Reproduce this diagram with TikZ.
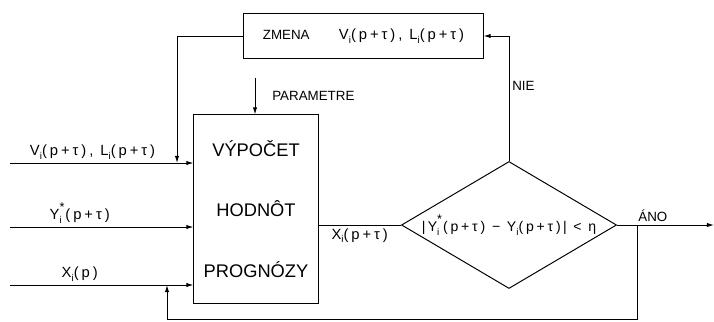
\documentclass[tikz,border=0pt]{standalone}
\usepackage{fontspec}
\setmainfont{Liberation Sans}
\newfontfamily\frm[LetterSpace=20]{Liberation Sans}
\usetikzlibrary{shapes.geometric, arrows.meta, positioning}

\newcommand{\idx}[1]{\raisebox{-0.5ex}{\fontsize{7}{8}\selectfont #1}}
\newcommand{\stidx}[1]{\makebox[4.2pt][l]{\rlap{\raisebox{1.1ex}{\fontsize{9}{9}\selectfont *}}\idx{#1}}}

\begin{document}
\begin{tikzpicture}[
        x=0.025cm, y=-0.025cm,
        line width=0.7pt,
        tag/.style={font=\fontsize{9.5}{11}\selectfont, inner sep=2pt},
        formula/.style={font=\frm\fontsize{10.5}{12}\selectfont, inner sep=2pt},
        block/.style={rectangle, draw, align=center},
        decision/.style={diamond, draw, shape aspect=1.7, inner sep=0pt, minimum width=5.375cm, minimum height=3.175cm, font=\frm\fontsize{10}{12}\selectfont},
        arrow/.style={-{Latex[length=1.8mm, width=1.1mm]}}
    ]
    \useasboundingbox (0,0) rectangle (714,321);

    % Blocks
    \node[block, minimum width=5.975cm, minimum height=1.125cm, font=\fontsize{9.5}{11}\selectfont] (zmena) at (363.5,36)
        {ZMENA\hspace{2.2em}{\frm\fontsize{10.5}{12}\selectfont V\idx{i}(p+τ), L\idx{i}(p+τ)}};
    \node[block, minimum width=3.1cm, minimum height=4.7cm, font=\fontsize{13}{43}\selectfont] (calc) at (256,209)
        {VÝPOČET\\HODNÔT\\PROGNÓZY};
    \node[decision] (cond) at (509,225) {|\,Y\stidx{i}(p+τ) − Y\idx{i}(p+τ)\,| < η};

    % Free ends
    \coordinate (in1) at (10,163);
    \coordinate (in2) at (10,227);
    \coordinate (in3) at (10,285);
    \coordinate (par) at (255,78);
    \coordinate (drop) at (177,163);
    \coordinate (out) at (714,225);
    \coordinate (yes) at (637,225);
    \coordinate (back) at (167,319.5);

    % Inputs
    \draw[arrow] (in1) -- node[formula, above, pos=0.45] {V\idx{i}(p+τ), L\idx{i}(p+τ)} (in1 -| calc.west);
    \draw[arrow] (in2) -- node[formula, above, pos=0.38] {Y\stidx{i}(p+τ)} (in2 -| calc.west);
    \draw[arrow] (in3) -- node[formula, above, pos=0.38] {X\idx{i}(p)} (in3 -| calc.west);
    \draw[arrow] (par) -- node[tag, right, xshift=0.35cm] {PARAMETRE} (par |- calc.north);

    % Decision
    \draw (calc.east |- cond.west) -- node[formula, below] {X\idx{i}(p+τ)} (cond.west);
    \draw[arrow] (cond.north) |- node[tag, right, pos=0.3] {NIE} (zmena.east);
    \draw[arrow] (zmena.west) -| (drop);
    \draw[arrow] (cond.east) -- node[tag, above, pos=0.37] {ÁNO} (out);
    \draw[arrow] (yes) |- (back) -- (back |- in3);

    \end{tikzpicture}
\end{document}
